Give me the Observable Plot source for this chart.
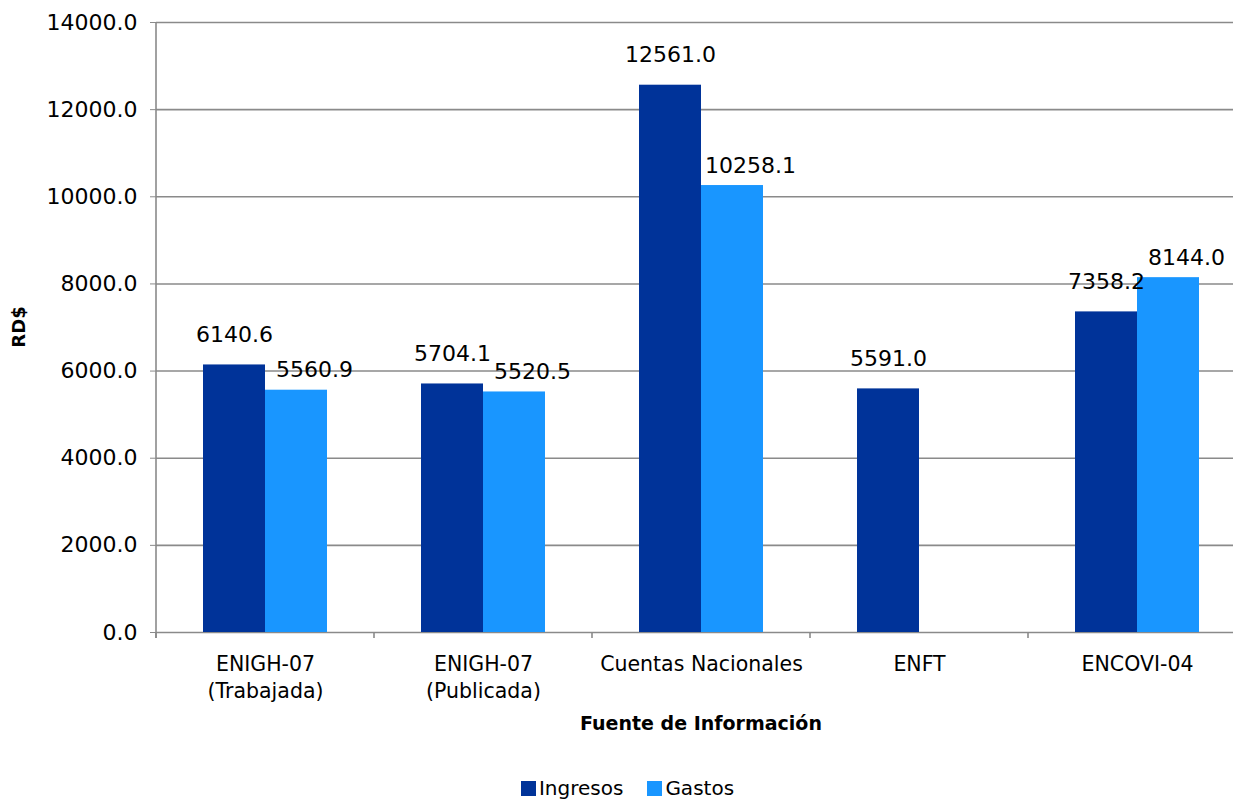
<!DOCTYPE html>
<html>
<head>
<meta charset="utf-8">
<script src="https://cdn.jsdelivr.net/npm/d3@7"></script>
<script src="https://cdn.jsdelivr.net/npm/@observablehq/plot@0.6"></script>
<style>
  html, body { margin: 0; padding: 0; background: #fff; }
  #wrap { width: 1233px; height: 800px; overflow: hidden; position: relative; font-family: "DejaVu Sans", sans-serif; }
  #chart svg { max-width: none !important; }
  #legend { position: absolute; left: 0; width: 1233px; top: 776px; display: flex; justify-content: center; align-items: center; font-size: 20px; color: #000; padding-left: 22px; box-sizing: border-box; }
  #legend .item { display: flex; align-items: center; margin: 0 24px 0 0; }
  #legend .item:last-child { margin-right: 0; }
  #legend .sw { width: 15px; height: 15px; margin-right: 3px; }
</style>
</head>
<body>
<div id="wrap"><div id="chart"></div><div id="legend"></div></div>
<script>
const categories = ["ENIGH-07\n(Trabajada)", "ENIGH-07\n(Publicada)", "Cuentas Nacionales", "ENFT", "ENCOVI-04"];
const series = ["Ingresos", "Gastos"];
const ingresos = [6140.6, 5704.1, 12561.0, 5591.0, 7358.2];
const gastos = [5560.9, 5520.5, 10258.1, null, 8144.0];
const yTicks = [0, 2000, 4000, 6000, 8000, 10000, 12000, 14000];
const seriesColors = ["#003399", "#1996FF"];

const data = [];
categories.forEach((c, i) => {
  data.push({cat: c, serie: "Ingresos", value: ingresos[i]});
  data.push({cat: c, serie: "Gastos", value: gastos[i]});
});
const shown = data.filter(d => d.value != null);

const gridColor = "#8a8a8a";
const W = 1250, H = 770;

const labelStyle = {fx: "cat", x: "serie", y: "value", text: d => d.value.toFixed(1), fontSize: 22, fill: "#000"};

const chart = Plot.plot({
  width: W,
  height: H,
  marginLeft: 155,
  marginRight: 4,
  marginTop: 22,
  marginBottom: H - 632,
  style: {fontFamily: "DejaVu Sans, sans-serif", fontSize: "21px", color: "#000", background: "#fff", overflow: "visible", maxWidth: "none"},
  fx: {domain: categories, padding: 0, label: null},
  x: {domain: series, paddingInner: 0, paddingOuter: 0.744, axis: null},
  y: {domain: [0, 14000], label: null},
  color: {domain: series, range: seriesColors},
  marks: [
    Plot.ruleY(yTicks, {stroke: gridColor, strokeWidth: 1.6}),
    Plot.barY(shown, {fx: "cat", x: "serie", y: "value", fill: "serie"}),
    Plot.text(shown.filter(d => d.serie === "Ingresos"), {...labelStyle, dy: -30}),
    Plot.text(shown.filter(d => d.serie === "Gastos"), {...labelStyle, dy: -20, dx: 18}),
    Plot.axisY({ticks: yTicks, tickFormat: d => d.toFixed(1), tickSize: 6, tickPadding: 13, stroke: gridColor, fill: "#000", fontSize: 22, label: null}),
    Plot.axisFx({anchor: "bottom", tickSize: 0, tickPadding: 20, lineHeight: 1.3, fontSize: 20.5, fill: "#000", label: null})
  ]
});

document.getElementById("chart").appendChild(chart);

// structural lines & titles via library scales
const svg = d3.select(chart);
const fx = chart.scale("fx");
const y = chart.scale("y");
const y0 = y.apply(0), yTop = y.apply(14000);
const left = fx.apply(categories[0]);
const bw = fx.bandwidth;
const g = svg.append("g");
g.append("line").attr("x1", left).attr("x2", left).attr("y1", yTop).attr("y2", y0 + 6)
  .attr("stroke", gridColor).attr("stroke-width", 1.6);
categories.forEach(c => {
  const xb = fx.apply(c);
  g.append("line").attr("x1", xb).attr("x2", xb).attr("y1", y0).attr("y2", y0 + 6)
    .attr("stroke", gridColor).attr("stroke-width", 1.6);
});
const right = fx.apply(categories[categories.length - 1]) + bw;
g.append("text").attr("x", (left + right) / 2).attr("y", y0 + 92)
  .attr("text-anchor", "middle").attr("dominant-baseline", "middle")
  .attr("font-weight", "bold").attr("font-size", 19).text("Fuente de Información");
g.append("text").attr("transform", `translate(20,${(y0 + yTop) / 2}) rotate(-90)`)
  .attr("text-anchor", "middle").attr("dominant-baseline", "middle")
  .attr("font-weight", "bold").attr("font-size", 18).text("RD$");

const legend = document.getElementById("legend");
series.forEach((s, i) => {
  const it = document.createElement("div"); it.className = "item";
  const sw = document.createElement("div"); sw.className = "sw"; sw.style.background = seriesColors[i];
  const t = document.createElement("span"); t.textContent = s;
  it.appendChild(sw); it.appendChild(t); legend.appendChild(it);
});
</script>
</body>
</html>
